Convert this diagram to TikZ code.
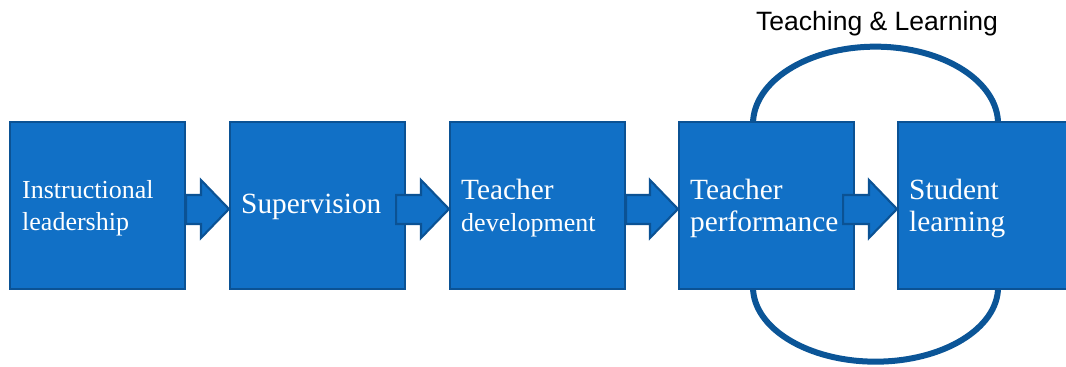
\documentclass[tikz,border=0pt]{standalone}
\usepackage{fontspec}
\setmainfont{Liberation Serif}
\newfontfamily\titlefont{Liberation Sans}
\usetikzlibrary{calc}
\definecolor{boxfill}{HTML}{1170C6}
\definecolor{boxline}{HTML}{0B5294}
\definecolor{loopline}{HTML}{0B5597}
\tikzset{
  stagebox/.style={draw=boxline, fill=boxfill, line width=1.6pt, minimum width=131.25pt,
    minimum height=125.25pt, inner sep=0pt},
  stagetext/.style={anchor=west, align=left, inner sep=0pt, text=white,
    font=\fontsize{22pt}{24pt}\selectfont},
  blockarrow/.style={draw=boxline, fill=boxfill, line width=1.6pt, line join=miter},
  loopline/.style={draw=loopline, line width=4.5pt}
}
\newcommand{\smalltxt}{\fontsize{19.5pt}{21pt}\selectfont}
\newcommand{\blockarr}[3]{% start node, end node, shaft start offset (px)
  \draw[blockarrow] ($(#1.east)+(#3,-10.5)$) -- ($(#2.west)+(-28,-10.5)$) -- ($(#2.west)+(-28,-25.5)$)
    -- ($(#2.west)+(0,3.5)$) -- ($(#2.west)+(-28,32.5)$) -- ($(#2.west)+(-28,18.5)$)
    -- ($(#1.east)+(#3,18.5)$) -- cycle;}
\begin{document}
\begin{tikzpicture}[x=0.75pt,y=-0.75pt]
\useasboundingbox (0,0) rectangle (1066,367);
\clip (0,0) rectangle (1066,367);
% loops
\coordinate (tl) at (753,124);
\coordinate (bl) at (753,287);
\draw[loopline] (tl) arc[start angle=180, end angle=0, x radius=91.9pt, y radius=58pt];
\draw[loopline] (bl) arc[start angle=180, end angle=360, x radius=91.9pt, y radius=56pt];
% boxes
\node[stagebox] (b1) at (97.5,205.5) {};
\node[stagebox] (b2) at (317.5,205.5) {};
\node[stagebox] (b3) at (537.5,205.5) {};
\node[stagebox] (b4) at (766.5,205.5) {};
\node[stagebox, minimum width=150pt] (b5) at (998,205.5) {};
% texts
\node[stagetext] (t1) at ($(b1.west)+(13,3)$) {\smalltxt Instructional\\\smalltxt leadership};
\node[stagetext] (t2) at ($(b2.west)+(12,1)$) {Supervision};
\node[stagetext] (t3) at ($(b3.west)+(12,3)$) {Teacher\\\smalltxt development};
\node[stagetext] (t4) at ($(b4.west)+(12,3)$) {Teacher\\performance};
\node[stagetext] (t5) at ($(b5.west)+(12,3)$) {Student\\learning};
% block arrows
\blockarr{b1}{b2}{0}
\blockarr{b2}{b3}{-10}
\blockarr{b3}{b4}{0}
\blockarr{b4}{b5}{-12}
% title
\node[anchor=base, font=\titlefont\fontsize{19.9pt}{24pt}\selectfont, inner sep=0pt] (title) at (877,31) {Teaching \& Learning};
\end{tikzpicture}
\end{document}
